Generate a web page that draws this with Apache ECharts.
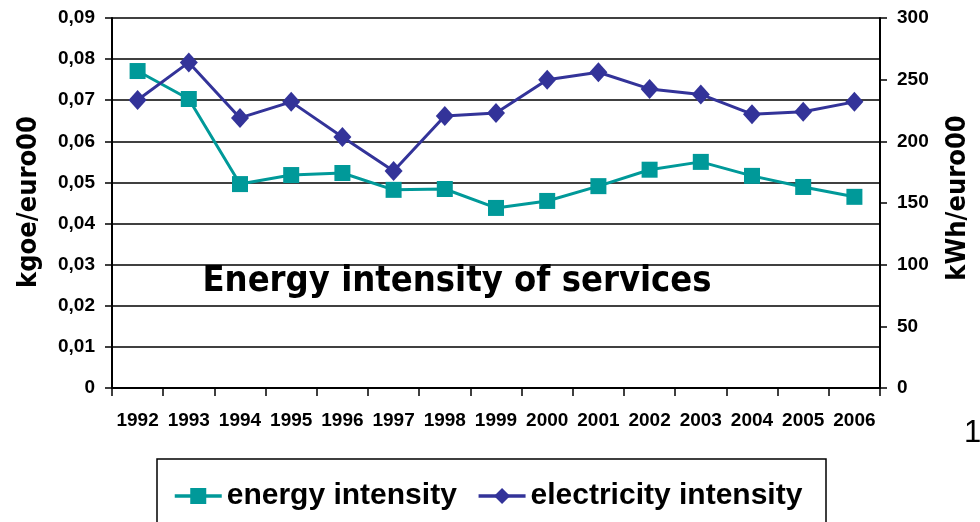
<!DOCTYPE html>
<html>
<head>
<meta charset="utf-8">
<script src="https://cdn.jsdelivr.net/npm/echarts@6/dist/echarts.min.js"></script>
<style>html,body{margin:0;padding:0;background:#fff;}#c{width:980px;height:522px;}</style>
</head>
<body>
<div id="c"></div>
<script>
const years = ['1992','1993','1994','1995','1996','1997','1998','1999','2000','2001','2002','2003','2004','2005','2006'];
const energyIntensity = [0.0771,0.0703,0.0496,0.0518,0.0523,0.0482,0.0484,0.0438,0.0455,0.0491,0.0531,0.0550,0.0516,0.0489,0.0465];
const electricityIntensity = [233.5,264,219,232,203.5,176,220.5,223,250,256,242.5,238,222,224,232];
const seriesNames = ['energy intensity','electricity intensity'];
const leftAxisName = 'kgoe/euro00';
const rightAxisName = 'kWh/euro00';
const chartTitle = 'Energy intensity of services';

const chart = echarts.init(document.getElementById('c'));
const tickFont = {fontFamily:'Liberation Sans, Arial', fontWeight:'bold', fontSize:19, color:'#000'};
const condFont = '"DejaVu Sans Condensed", "DejaVu Sans"';
chart.setOption({
  animation:false,
  backgroundColor:'#fff',
  grid:{left:112,right:100,top:18,bottom:134},
  xAxis:{
    type:'category', data:years, boundaryGap:true,
    axisLine:{lineStyle:{color:'#000',width:2}},
    axisTick:{show:true,length:8,lineStyle:{color:'#000',width:1.5}},
    axisLabel:Object.assign({margin:23,interval:0},tickFont)
  },
  yAxis:[{
    type:'value', min:0, max:0.09, interval:0.01, position:'left',
    axisLine:{show:true,lineStyle:{color:'#000',width:2}},
    axisTick:{show:true,length:7,lineStyle:{color:'#000',width:1.5}},
    axisLabel:Object.assign({margin:17,formatter:v=> v===0?'0':v.toFixed(2).replace('.',',')},tickFont),
    splitLine:{show:true,lineStyle:{color:'#000',width:1.5}}
  },{
    type:'value', min:0, max:300, interval:50, position:'right',
    axisLine:{show:true,lineStyle:{color:'#000',width:2}},
    axisTick:{show:true,length:7,lineStyle:{color:'#000',width:1.5}},
    axisLabel:Object.assign({margin:17},tickFont),
    splitLine:{show:false}
  }],
  legend:{
    left:168, top:476, itemGap:20, itemWidth:47, itemHeight:20,
    lineStyle:{width:3.5},
    textStyle:{fontFamily:'Liberation Sans, Arial',fontWeight:'bold',fontSize:30,color:'#000'},
    data:seriesNames
  },
  graphic:[
    {type:'rect',shape:{x:157,y:459,width:669,height:100},style:{fill:'none',stroke:'#000',lineWidth:1.5},silent:true},
    {type:'text',x:457,y:282,style:{text:chartTitle,align:'center',verticalAlign:'middle',font:'bold 36px ' + condFont,fill:'#000'}},
    {type:'text',x:29,y:202,rotation:Math.PI/2,style:{text:leftAxisName,align:'center',verticalAlign:'middle',font:'bold 27px ' + condFont,fill:'#000'}},
    {type:'text',x:958,y:198,rotation:Math.PI/2,style:{text:rightAxisName,align:'center',verticalAlign:'middle',font:'bold 27px ' + condFont,fill:'#000'}},
    {type:'text',x:964,y:433,style:{text:'1',align:'left',verticalAlign:'middle',font:'31px "Liberation Sans"',fill:'#000'}}
  ],
  series:[{
    name:seriesNames[0], type:'line', yAxisIndex:0, data:energyIntensity,
    symbol:'rect', symbolSize:16,
    lineStyle:{color:'#009999',width:3}, itemStyle:{color:'#009999'}
  },{
    name:seriesNames[1], type:'line', yAxisIndex:1, data:electricityIntensity,
    symbol:'diamond', symbolSize:[18,20],
    lineStyle:{color:'#333399',width:3}, itemStyle:{color:'#333399'}
  }]
});
</script>
</body>
</html>
